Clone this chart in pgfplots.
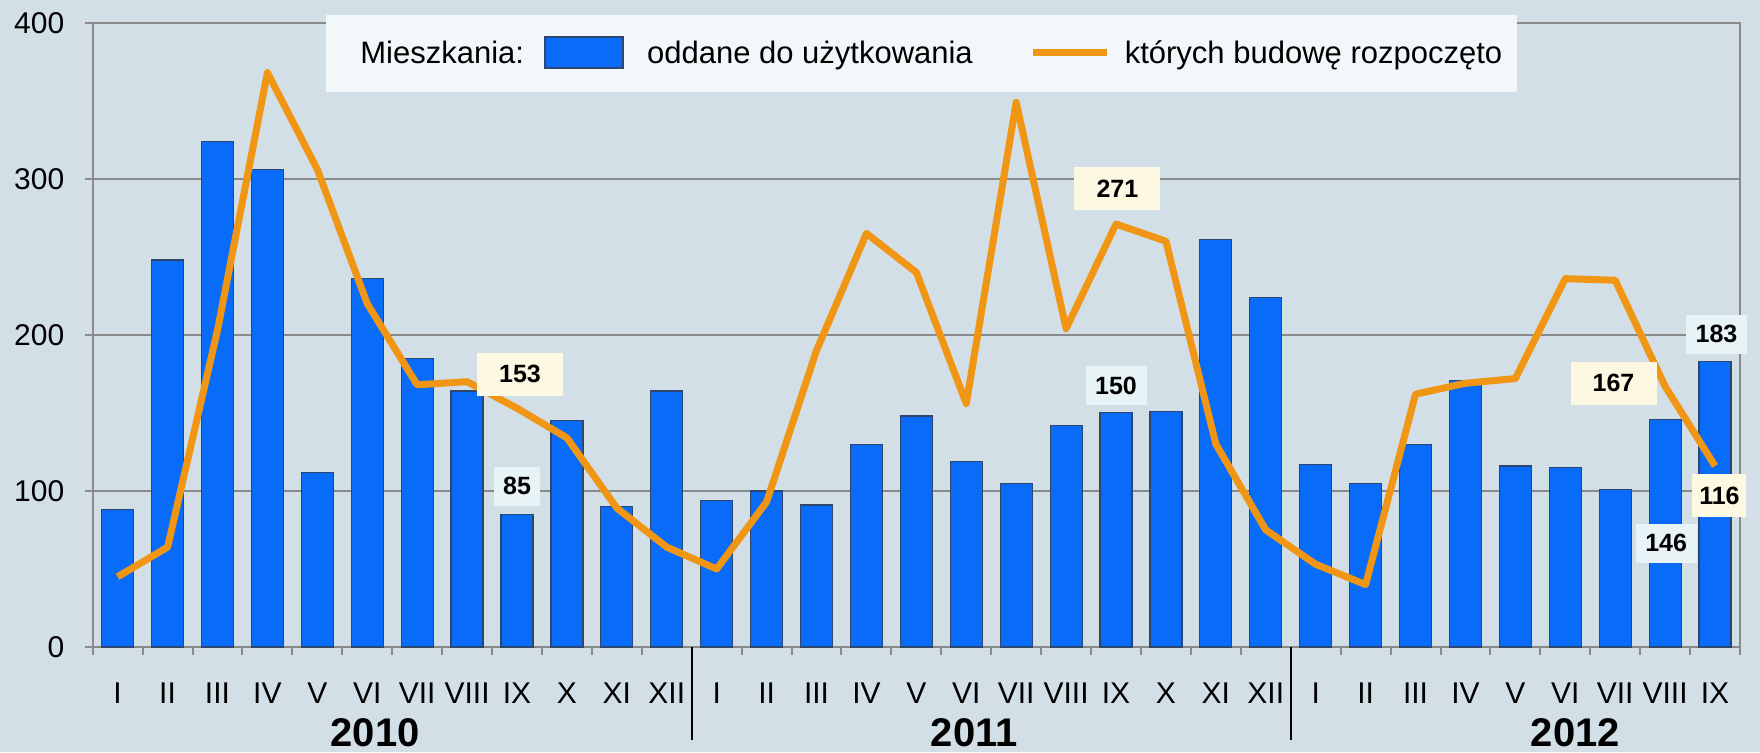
\documentclass[border=0pt]{standalone}
\usepackage{fontspec}
\setmainfont{Liberation Sans}
\usepackage{pgfplots}
\pgfplotsset{compat=1.18}
\definecolor{bgcol}{RGB}{211,223,231}
\definecolor{gridcol}{RGB}{138,138,138}
\definecolor{barmain}{RGB}{8,108,248}
\definecolor{barline}{RGB}{45,70,110}
\definecolor{linecol}{RGB}{240,150,20}
\definecolor{legfill}{RGB}{242,247,250}
\definecolor{cream}{RGB}{253,248,226}
\definecolor{palebl}{RGB}{232,243,246}
\begin{document}
\begin{tikzpicture}
\path[use as bounding box, fill=bgcol] (-46.35pt,-52.5pt) rectangle (833.65pt,323.5pt);
\begin{axis}[
  scale only axis, width=823.65pt, height=312.15pt,
  at={(0pt,0pt)}, anchor=south west,
  clip=false,
  xmin=-0.5, xmax=32.5, ymin=0, ymax=400,
  ytick={0,100,200,300,400},
  xtick={-0.5,0.5,...,32.5},
  xticklabels={},
  extra x ticks={0,1,...,32},
  extra x tick labels={I,II,III,IV,V,VI,VII,VIII,IX,X,XI,XII,I,II,III,IV,V,VI,VII,VIII,IX,X,XI,XII,I,II,III,IV,V,VI,VII,VIII,IX},
  extra x tick style={major tick length=0pt, xticklabel style={anchor=center, yshift=-23pt, inner sep=0pt}},
  tick pos=left,
  ymajorgrids, grid style={gridcol, line width=1pt},
  axis line style={gridcol, line width=1pt},
  tick style={gridcol, line width=1pt},
  tick align=outside, major tick length=4pt,
  tick label style={font=\fontsize{15}{18}\selectfont},
  yticklabel style={inner sep=0pt, xshift=-10pt},
  /pgf/number format/assume math mode=true,
  legend columns=-1,
  legend cell align=left,
  legend style={at={(rel axis cs:0,1)}, anchor=north west, xshift=116.65pt, yshift=3.85pt,
    fill=legfill, draw=none, inner xsep=7.5pt, inner ysep=10.5pt, column sep=0pt,
    font=\fontsize{15.5}{18}\selectfont,
    nodes={inner sep=0pt, text height=11.5pt, text depth=3.5pt}},
]
\addlegendimage{legend image code/.code={\path[draw=none,fill=none] (0pt,0pt) -- (9.5pt,0pt);}}
\addplot[ybar, bar width=16pt, draw=barline, line width=0.6pt, fill=barmain,
  legend image code/.code={\path[draw=barline, line width=0.6pt, fill=barmain] (10.5pt,-6.25pt) rectangle (49.5pt,9.25pt); \path[draw=none,fill=none] (0pt,0pt) -- (61.5pt,0pt);}]
coordinates {
(0,88) (1,248) (2,324) (3,306) (4,112) (5,236) (6,185) (7,164) (8,85) (9,145) (10,90) (11,164)
(12,94) (13,100) (14,91) (15,130) (16,148) (17,119) (18,105) (19,142) (20,150) (21,151) (22,261) (23,224)
(24,117) (25,105) (26,130) (27,171) (28,116) (29,115) (30,101) (31,146) (32,183)
};
\addplot[linecol, line width=3.5pt, line join=round, mark=none,
  legend image code/.code={\path[draw=linecol, line width=3.5pt] (30pt,1.5pt) -- (67pt,1.5pt); \path[draw=none,fill=none] (0pt,0pt) -- (76pt,0pt);}]
coordinates {
(0,45) (1,64) (2,203) (3,368) (4,306) (5,220) (6,168) (7,170) (8,153) (9,134) (10,89) (11,64)
(12,50) (13,93) (14,190) (15,265) (16,240) (17,156) (18,349) (19,204) (20,271) (21,260) (22,130) (23,75)
(24,53) (25,40) (26,162) (27,169) (28,172) (29,236) (30,235) (31,167) (32,116)
};
\legend{Mieszkania:,oddane do użytkowania,których budowę rozpoczęto}
\tikzset{
  linelbl/.style={fill=cream, inner sep=0pt, minimum width=43pt, minimum height=21.5pt, font=\bfseries\fontsize{12.5}{15}\selectfont},
  barlbl/.style={fill=palebl, inner sep=0pt, minimum width=30.5pt, minimum height=19.5pt, font=\bfseries\fontsize{12.5}{15}\selectfont}
}
\node[linelbl, xshift=1.5pt, yshift=17pt] at (axis cs:8,153) {153};
\node[barlbl, minimum width=23pt, yshift=14pt] at (axis cs:8,85) {85};
\node[linelbl, xshift=0.7pt, yshift=17.8pt] at (axis cs:20,271) {271};
\node[barlbl, yshift=13.5pt] at (axis cs:20,150) {150};
\node[linelbl, xshift=-25.8pt, yshift=1.5pt] at (axis cs:31,167) {167};
\node[barlbl, xshift=0.5pt, yshift=-62pt] at (axis cs:31,146) {146};
\node[linelbl, minimum width=27pt, xshift=2.2pt, yshift=-15pt] at (axis cs:32,116) {116};
\node[barlbl, xshift=0.7pt, yshift=13.5pt] at (axis cs:32,183) {183};
\draw[black, line width=1.1pt] (axis cs:11.5,0) -- ++(0pt,-46.5pt);
\draw[black, line width=1.1pt] (axis cs:23.5,0) -- ++(0pt,-46.5pt);
\node[font=\bfseries\fontsize{20}{23}\selectfont, inner sep=0pt, yshift=-43pt] at (axis cs:5.16,0) {2010};
\node[font=\bfseries\fontsize{20}{23}\selectfont, inner sep=0pt, yshift=-43pt] at (axis cs:17.16,0) {2011};
\node[font=\bfseries\fontsize{20}{23}\selectfont, inner sep=0pt, yshift=-43pt] at (axis cs:29.2,0) {2012};
\end{axis}
\end{tikzpicture}
\end{document}
